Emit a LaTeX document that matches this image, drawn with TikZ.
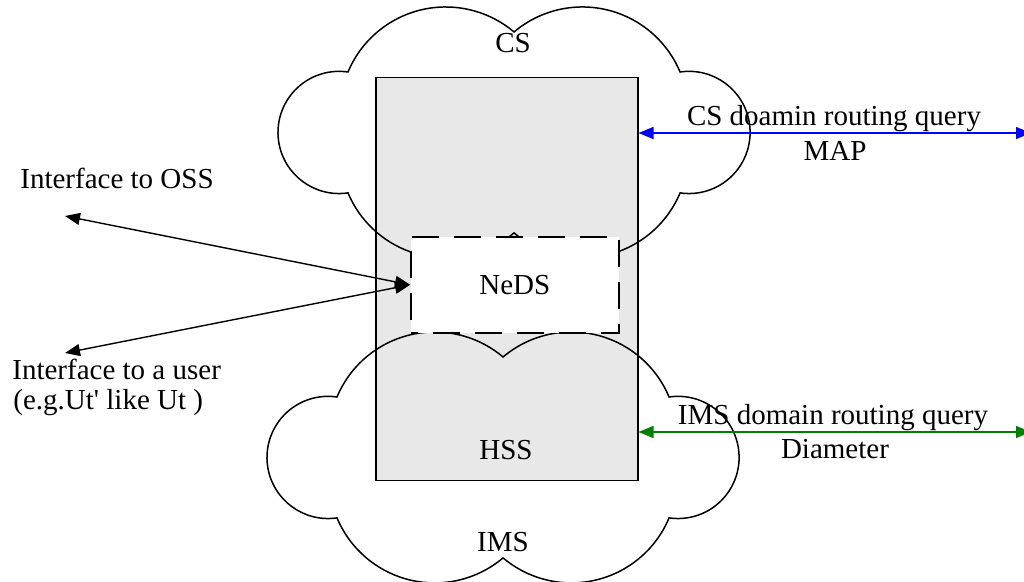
\documentclass[tikz,border=0pt]{standalone}
\usepackage{fontspec}
\setmainfont{Liberation Serif}
\usetikzlibrary{arrows.meta}
\definecolor{hssgray}{RGB}{232,232,232}
\definecolor{arrblue}{RGB}{0,0,255}
\definecolor{arrgreen}{RGB}{0,128,0}
\begin{document}
\begin{tikzpicture}[x=0.5pt,y=0.5pt,
  lbl/.style={font=\fontsize{14.5}{17}\selectfont, inner sep=0pt},
  cloudline/.style={draw=black, line width=0.75pt},
  tip/.tip={Triangle[length=7.5pt,width=6pt]},
  conn/.style={line width=0.7pt, tip-tip},
  hssbox/.style={draw, line width=0.75pt, fill=hssgray, minimum width=131pt, minimum height=201.5pt, inner sep=0pt, anchor=north west},
  nedsbox/.style={draw, line width=0.8pt, fill=white, dash pattern=on 13.5pt off 7.5pt, dash phase=10pt, minimum width=104pt, minimum height=48pt, inner sep=0pt, anchor=north west, font=\fontsize{14.5}{17}\selectfont}
]
\useasboundingbox (0,0) rectangle (1024,-582);
\clip (0,0) rectangle (1024,-582);
\newcommand{\mycloud}{arc[start angle=157.3,end angle=49.8,radius=52.95pt]
  arc[start angle=130.2,end angle=22.7,radius=52.95pt]
  arc[start angle=98.4,end angle=-98.4,radius=30.55pt]
  arc[start angle=-22.7,end angle=-130.2,radius=52.95pt]
  arc[start angle=-49.8,end angle=-157.3,radius=52.95pt]
  arc[start angle=-81.6,end angle=-278.4,radius=30.55pt] -- cycle}
% HSS rectangle
\node[hssbox] (hss) at (375,-77) {};
% clouds
\draw[cloudline] (348,-72) \mycloud;
\draw[cloudline] (337,-397) \mycloud;
% NeDS
\node[nedsbox] (neds) at (410,-236) {NeDS};
% labels
\node[lbl, anchor=base] (cs) at (513,-53) {CS};
\node[lbl, anchor=base] (hsslbl) at (506,-460) {HSS};
\node[lbl, anchor=base] (ims) at (503,-552) {IMS};
\node[lbl, anchor=base west] (osslbl) at (20,-189) {Interface to OSS};
\node[lbl, anchor=base west] (usrlbl) at (12,-380) {Interface to a user};
\node[lbl, anchor=base west] (usrlbl2) at (13,-410) {(e.g.Ut\textquotesingle{} like Ut )};
\node[lbl, anchor=base] (csq) at (834,-126) {CS doamin routing query};
\node[lbl, anchor=base] (map) at (835,-161) {MAP};
\node[lbl, anchor=base] (imsq) at (833,-425) {IMS domain routing query};
\node[lbl, anchor=base] (dia) at (835,-459) {Diameter};
% connectors
\coordinate (oss) at (65,-216);
\coordinate (usr) at (65,-353);
\coordinate (csend) at (1031,-133);
\coordinate (imsend) at (1031,-432);
\draw[conn] (neds.west) -- (oss);
\draw[conn] (neds.west) -- (usr);
\draw[conn, draw=arrblue, fill=arrblue] (hss.east |- csend) -- (csend);
\draw[conn, draw=arrgreen, fill=arrgreen] (hss.east |- imsend) -- (imsend);
\end{tikzpicture}
\end{document}
